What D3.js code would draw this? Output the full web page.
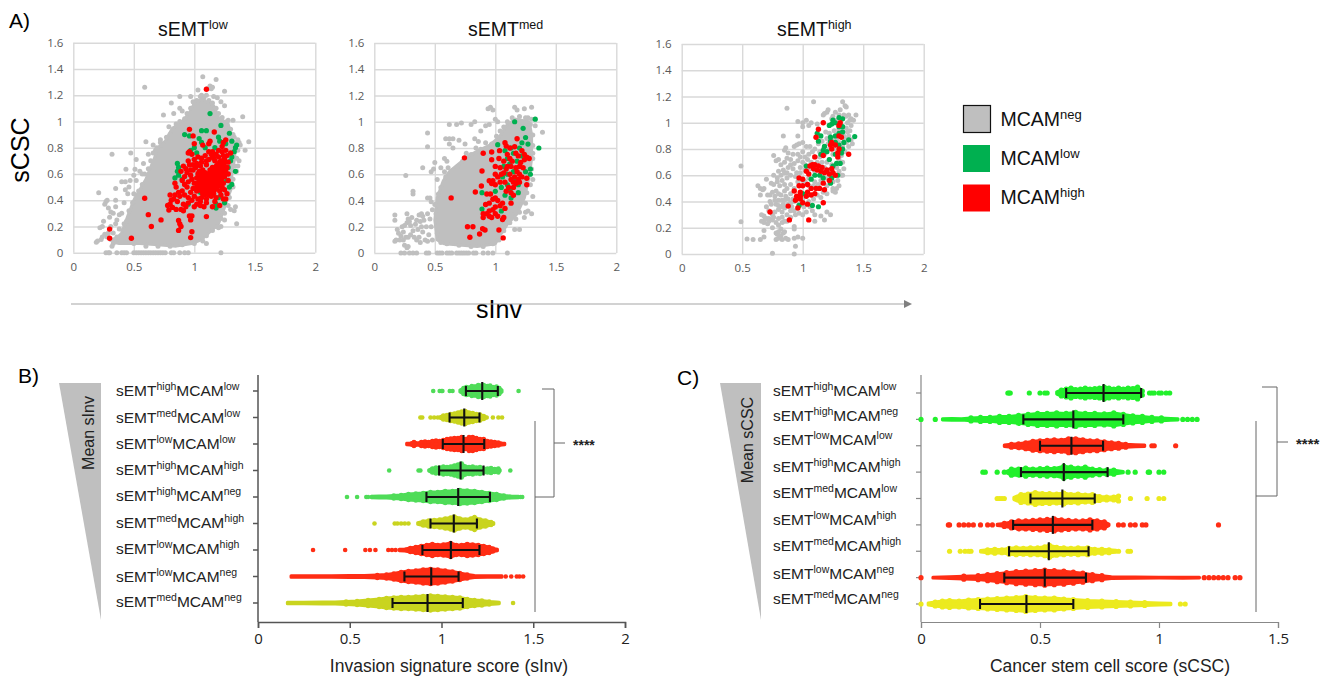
<!DOCTYPE html>
<html lang="en">
<head>
<meta charset="UTF-8" />
<title>sEMT MCAM scores</title>
<script src="https://cdn.jsdelivr.net/npm/d3@7"></script>
<style>
  body { margin: 0; background: #fff; }
  svg { display: block; font-family: "Liberation Sans", Arial, sans-serif; }
  .tick text { font-family: "Open Sans", sans-serif; }
</style>
</head>
<body>
<svg id="fig" width="1340" height="680"></svg>
<script>
// panel A. the dense middle of the clouds is kept as an outline
const lowNegCloud = [[.33,.08],[.40,.15],[.45,.28],[.50,.40],[.55,.48],[.60,.56],[.63,.63],[.67,.72],[.70,.80],[.76,.85],[.82,.95],[.88,.98],[.93,1.03],[.97,1.08],[1.0,1.14],[1.06,1.17],[1.10,1.15],[1.16,1.12],[1.20,1.03],[1.28,.98],[1.31,.88],[1.34,.80],[1.33,.70],[1.31,.60],[1.31,.50],[1.27,.40],[1.24,.32],[1.20,.22],[1.13,.16],[1.06,.10],[.98,.07],[.85,.05],[.70,.06],[.55,.07],[.45,.07],[.38,.07]];
const lowNeg = [[.59,1.26],[1.07,1.34],[1.18,1.32],[1.11,1.25],[1.13,1.27],[1.14,1.25],[1.25,1.23],[.81,1.14],[.88,1.19],[.97,1.19],[.745,1.05],[.83,1.06],[.88,1.1],[.9,1.08],[.79,.96],[.60,.845],[.32,.75],[.475,.76],[.62,.75],[.52,.71],[.58,.68],[.435,.635],[.51,.635],[.21,.457],[1.40,1.035],[1.45,.845],[1.42,.78],[1.38,.82],[1.37,.70],[1.35,.62],[1.33,.32],[1.35,.22],[1.36,.66],[1.28,1.01],[1.32,1.01],[1.25,1.12],[1.22,1.15],[1.15,1.26],[1.19,1.18],[1.03,1.24],[1.06,1.2],[1.1,1.2],[1.16,1.19],[1.0,1.14],[1.36,.86],[1.37,.84],[1.33,.88],[1.34,.35],[1.3,.33],[1.25,.25],[1.2,.19],[1.22,.2],[1.1,.07],
  [.27,0],[.29,0],[.3,0],[.36,0],[.4,0],[.42,0],[.44,0],[.5,0],[.52,0],[.54,0],[.56,0],[.58,0],[.6,0],[.62,0],[.64,0],[.66,0],[.68,0],[.7,0],[.72,0],[.74,0],[.76,0],[.81,0],[.83,0],[.88,0],[.92,0],[.95,0],[1.22,0],
  [.19,.08],[.2,.09],[.22,.19],[.24,.2],[.24,.12],[.25,.24],[.26,.37],[.27,.39],[.28,.4],[.29,.34],[.31,.31],[.30,.27],[.31,.2],[.29,.15],[.28,.12],[.31,.1],[.33,.07],[.35,.22],[.35,.35],[.36,.25],[.38,.18],[.35,.4],[.35,.49],[.4,.54],[.43,.54],[.47,.55],[.5,.59],[.52,.55],[.45,.45],[.42,.38],[.4,.3],[.38,.29],[.42,.22],[.33,.15],[.36,.12],[.45,.1],[.32,.05],[.37,.1],[.26,.14],[.23,.1],[.33,.3],[.43,.48],[.46,.5],[.55,.62],[.57,.6],[.66,.82],[.68,.78],[.72,.86],
  [.34,.1],[.38,.12],[.41,.17],[.44,.24],[.46,.32],[.49,.38],[.5,.45],[.54,.47],[.57,.52],[.59,.6],[.62,.64],[.64,.7],[.66,.76],[.69,.8],[.72,.84],[.74,.82],[.77,.88],[.8,.9],[.83,.93],[.85,.98],[.88,1.0],[.92,1.02],[.94,1.06],[.97,1.1],[.99,1.15],[1.02,1.16],[1.05,1.19],[1.08,1.18],[1.12,1.16],[1.15,1.14],[1.18,1.1],[1.2,1.06],[1.23,1.03],[1.27,1.0],[1.3,.94],[1.32,.9],[1.33,.84],[1.36,.78],[1.35,.72],[1.33,.66],[1.32,.56],[1.32,.5],[1.29,.42],[1.28,.36],[1.25,.3],[1.22,.26],[1.18,.2],[1.15,.17],[1.1,.13],[1.07,.09],[1.0,.07],[.9,.06],[.8,.05],[.7,.05],[.6,.05],[.5,.07]];
const lowLow = [[1.13,1.06],[1.22,.97],[.92,.9],[.96,.89],[1.06,.93],[1.1,.93],[1.29,.91],[1.2,.88],[1.21,.85],[1.26,.83],[1.31,.85],[1.35,.82],[1.34,.8],[1.33,.77],[1.31,.73],[1.3,.7],[1.04,.87],[1.06,.84],[1.17,.8],[1.09,.8],[1.0,.8],[.97,.78],[1.02,.76],[.86,.68],[.87,.65],[.86,.62],[.84,.57],[.87,.59],[.9,.56],[1.34,.62],[1.31,.52],[1.29,.5],[1.25,.38],[1.18,.37],[1.18,.34],[1.2,.42],[.95,.37],[1.23,.55],[1.28,.65],[1.27,.55],[1.05,.46],[1.15,.48],[1.1,.55],[1.14,.6]];
const lowHighCore = [[1.0,.5],[1.04,.62],[1.12,.62],[1.17,.68],[1.24,.73],[1.27,.7],[1.26,.58],[1.22,.5],[1.16,.44],[1.08,.42]];
const lowHigh = [[1.10,1.245],[.96,.94],[1.165,.92],[.99,.89],[1.13,.85],[1.12,.83],[1.26,.86],[1.24,.84],[1.23,.81],[1.0,.83],[.96,.77],[.95,.76],[.98,.75],[1.07,.82],[1.15,.77],[1.12,.77],[1.18,.75],[1.24,.74],[1.27,.74],[1.3,.76],
  [.59,.415],[.62,.29],[.645,.2],[.725,.25],[.30,.18],[.30,.11],[.48,.11],[.87,.245],[.88,.22],[.89,.2],[.87,.17],[.97,.115],[.98,.16],[.96,.28],[.98,.28],[.97,.25],[1.1,.275],[.85,.33],[.8,.37],[.82,.345],[.78,.36],[.79,.325],[.81,.4],[.84,.44],[.8,.44],[.83,.41],[.86,.39],[.89,.33],[.91,.32],[.93,.35],[.95,.38],[.91,.37],[.88,.43],[.84,.53],[.85,.5],[.9,.47],[.87,.46],[.92,.44],[.95,.42],[1.0,.35],[1.02,.37],[1.05,.36],[1.08,.35],[1.15,.35],[1.21,.36],[1.26,.41],[1.24,.41],[1.27,.45],[1.25,.48],[.98,.4],[1.03,.41],
  [1.0,.43],[1.06,.42],[1.1,.41],[1.14,.43],[1.18,.42],[.97,.46],[1.02,.47],[1.07,.45],[1.12,.46],[1.16,.45],[1.21,.47],[.94,.5],[.99,.49],[1.04,.51],[1.08,.49],[1.13,.5],[1.18,.51],[1.23,.5],[.9,.55],[.95,.54],[1.0,.53],[1.05,.55],[1.09,.53],[1.14,.54],[1.19,.55],[1.24,.53],[1.28,.55],[.92,.58],[.97,.59],[1.02,.57],[1.06,.59],[1.11,.58],[1.16,.57],[1.2,.59],[1.25,.58],[1.28,.6],[.89,.62],[.94,.61],[.99,.63],[1.04,.62],[1.09,.61],[1.13,.63],[1.17,.62],[1.21,.61],[1.26,.63],[.91,.66],[.96,.67],[1.01,.65],[1.05,.66],[1.1,.67],[1.15,.65],[1.19,.66],[1.23,.67],[1.27,.65],[.95,.7],[1.0,.71],[1.06,.69],[1.12,.71],[1.17,.7],[1.21,.69],[1.25,.71],[1.28,.69],[1.03,.73],[1.09,.74],[1.14,.75],[1.2,.73],[1.22,.64],[1.18,.57],[1.12,.53],[1.07,.63],[1.02,.5],[1.24,.61],[1.22,.7],[.92,.52],[.98,.56],[1.03,.6],[.93,.64],[.97,.63],[1.06,.72],[1.15,.73],[1.23,.77],[1.26,.78],[1.12,.44],[1.05,.39],[1.1,.38],[1.17,.39],[1.22,.44],[1.2,.78],[1.16,.72],[1.1,.7],[1.02,.68],[.99,.67]];

const medNegCloud = [[.52,.10],[.50,.25],[.52,.42],[.57,.55],[.62,.62],[.70,.68],[.78,.74],[.86,.78],[.95,.82],[1.03,.88],[1.10,.98],[1.17,1.02],[1.28,1.0],[1.30,.9],[1.30,.72],[1.28,.58],[1.24,.42],[1.18,.30],[1.10,.22],[1.05,.15],[1.0,.07],[.85,.05],[.7,.06],[.58,.07]];
const medNeg = [[.96,1.11],[.94,1.1],[.98,1.09],[1.16,1.11],[1.18,1.09],[1.24,1.1],[1.3,1.11],[.62,.98],[.68,.98],[.72,.99],[.8,.98],[.83,1.0],[.92,.97],[.95,.98],[1.0,1.02],[1.02,1.0],[.88,.93],[.44,.915],[.44,.81],[.26,.59],[.32,.47],[.32,.45],[.4,.65],[.47,.62],[.49,.64],[.5,.69],[.59,.87],[.62,.87],[.65,.87],[.7,.86],[.62,.83],[.65,.8],[.75,.83],[.83,.87],[.86,.85],[.58,.72],[.6,.7],[.55,.65],[.58,.62],[.52,.56],[.44,.42],[.46,.42],[.47,.39],[.4,.28],[.39,.3],[.37,.29],[1.39,.92],[1.33,.97],[1.3,1.02],[1.27,1.03],[1.31,.72],[1.31,.56],[1.31,.43],[1.3,.3],[1.27,.32],[1.24,.27],[1.25,.31],[1.2,.18],[1.16,.18],[1.13,.3],
  [.22,0],[.25,0],[.29,0],[.32,0],[.35,0],[.43,0],[.45,0],[.52,0],[.54,0],[.56,0],[.6,0],[.62,0],[.64,0],[.68,0],[.7,0],[.72,0],[.74,0],[.76,0],[.78,0],[.82,0],[.84,0],[.9,0],[.94,0],[.98,0],[1.1,0],
  [.17,.29],[.17,.25],[.19,.18],[.18,.1],[.17,.09],[.21,.1],[.22,.13],[.25,.06],[.27,.04],[.28,.05],[.24,.16],[.25,.21],[.27,.23],[.28,.26],[.27,.3],[.29,.24],[.3,.21],[.32,.17],[.33,.12],[.35,.1],[.37,.12],[.39,.2],[.38,.24],[.4,.16],[.42,.1],[.45,.14],[.47,.2],[.46,.26],[.44,.3],[.48,.33],[.3,.14],[.34,.22],[.36,.18],[.23,.2],[.26,.12],[.41,.25],[.31,.27],[.35,.25],[.43,.2],[.2,.15],[.24,.1],[.28,.12],[.38,.08],[.44,.09],[.48,.1],
  [.52,.15],[.51,.3],[.5,.37],[.53,.45],[.55,.5],[.59,.58],[.61,.65],[.65,.63],[.69,.66],[.73,.7],[.76,.76],[.8,.75],[.84,.8],[.88,.79],[.92,.84],[.97,.83],[1.01,.89],[1.04,.93],[1.07,.96],[1.1,1.0],[1.14,1.03],[1.2,1.04],[1.25,1.03],[1.29,.98],[1.31,.9],[1.31,.82],[1.31,.76],[1.3,.64],[1.29,.52],[1.26,.46],[1.25,.38],[1.2,.31],[1.17,.26],[1.12,.23],[1.07,.17],[1.03,.1],[.98,.07],[.9,.05],[.8,.05],[.7,.06],[.6,.07],[.55,.08]];
const medLow = [[1.33,1.02],[1.16,1.0],[1.23,.95],[1.25,.88],[1.36,.8],[1.02,.825],[1.22,.84],[1.27,.83],[1.2,.8],[1.15,.76],[1.08,.78],[1.1,.72],[1.12,.68],[1.07,.66],[1.18,.7],[1.29,.64],[1.29,.6],[1.25,.62],[1.15,.62],[1.1,.6],[1.06,.58],[1.1,.52],[1.05,.5],[1.12,.48],[1.08,.44],[1.0,.47],[.89,.46],[1.13,.42],[1.19,.46],[.89,.335],[1.05,.32],[1.19,.52],[1.22,.74],[1.13,.8],[1.17,.56]];
const medHigh = [[.745,.725],[.635,.42],[.90,.76],[.89,.625],[.835,.465],[.885,.51],[.77,.20],[.815,.2],[.79,.12],[.87,.145],[.895,.185],[.915,.175],[1.03,.175],[1.065,.115],[1.07,.27],[1.06,.255],[1.18,.87],[1.08,.84],[1.09,.815],[1.12,.80],[1.16,.81],[.97,.77],[1.035,.78],[.97,.71],[1.03,.72],[1.07,.7],[1.12,.72],[1.17,.76],[1.22,.78],[1.19,.74],[1.26,.73],[1.28,.72],[1.24,.71],[1.0,.66],[1.04,.65],[1.09,.64],[1.2,.66],[1.17,.65],[1.23,.65],[1.2,.6],[1.16,.58],[1.12,.6],[1.07,.61],[1.02,.58],[1.0,.6],[.95,.55],[.97,.53],[.98,.55],[1.0,.52],[1.04,.54],[1.08,.54],[1.17,.53],[1.2,.54],[1.13,.56],[1.26,.57],[1.26,.52],[1.15,.5],[1.13,.46],[1.09,.47],[.96,.45],[.93,.45],[.98,.41],[1.0,.42],[1.02,.4],[1.06,.38],[1.13,.38],[.95,.38],[.92,.37],[.9,.3],[.93,.3],[.95,.32],[.98,.33],[1.0,.35],[1.0,.3],[1.02,.28],[1.04,.36],[.9,.27],[.95,.28],[.97,.27],[1.08,.34],[1.15,.44],[1.18,.62],[1.22,.58],[1.1,.66],[1.13,.66],[1.19,.56],[1.15,.54],[1.11,.5],[1.05,.6],[1.14,.7],[1.21,.69],[1.24,.75],[1.1,.75]];

const highNeg = [[.87,1.11],[1.09,1.16],[1.33,1.16],[1.35,1.13],[1.36,1.12],[1.31,1.1],[1.44,1.06],[1.21,1.1],[1.18,1.07],[1.2,1.08],[1.17,1.06],[.96,1.01],[1.0,1.0],[1.03,1.02],[1.07,1.0],[1.12,.99],[1.0,.97],[1.05,.98],[1.4,1.03],[1.39,1.02],[1.37,1.0],[1.42,1.02],[1.4,.98],[1.39,.94],[1.36,.96],[1.38,.9],[1.35,.88],[1.41,.84],[1.38,.82],[1.4,.87],[1.33,.82],[1.35,.78],[1.32,.75],[1.3,.72],[1.33,.7],
  [.84,.9],[.96,.9],[.93,.82],[.95,.83],[.97,.84],[1.0,.85],[1.03,.82],[1.06,.82],[1.1,.8],[1.13,.84],[1.16,.86],[1.2,.88],[1.18,.82],[1.22,.8],[1.25,.76],[1.22,.72],[1.18,.76],[1.14,.78],[1.1,.74],[1.05,.76],[1.0,.78],[.96,.76],[.86,.81],[.85,.79],[.88,.77],[.87,.73],[.76,.75],[.78,.71],[.8,.72],[.82,.68],[.85,.7],[.9,.72],[.93,.69],[.96,.71],[1.0,.7],[1.04,.72],[1.07,.7],[1.12,.7],[1.16,.7],
  [.49,.67],[.7,.57],[.76,.6],[.63,.52],[.65,.5],[.67,.49],[.68,.5],[.65,.45],[.71,.45],[.75,.47],[.78,.48],[.8,.46],[.76,.53],[.79,.55],[.82,.6],[.8,.63],[.85,.62],[.83,.56],[.87,.58],[.9,.6],[.88,.66],[.92,.65],[.95,.62],[.98,.66],[1.02,.64],[.9,.53],[.87,.5],[.85,.48],[.82,.45],[.86,.44],[.9,.46],[.93,.5],[.96,.55],[1.0,.56],[1.05,.58],[1.1,.55],[1.15,.56],[1.2,.52],[1.25,.55],[1.28,.5],[1.3,.52],[1.32,.6],[1.27,.47],[1.25,.48],[1.17,.47],[1.12,.45],[.83,.41],[.8,.41],[.77,.41],[.74,.38],[.7,.36],[.68,.29],[.7,.27],[.66,.25],[.68,.24],[.71,.23],[.72,.25],[.75,.26],[.78,.24],[.8,.22],[.83,.24],[.85,.25],[.87,.3],[.83,.32],[.8,.34],[.85,.35],[.88,.38],[.91,.36],[.93,.33],[.97,.31],[1.0,.3],[1.03,.32],[1.08,.33],[1.1,.3],[1.15,.29],[1.2,.32],[1.23,.3],[.66,.3],[.49,.245],[.68,.18],[.78,.16],[.79,.15],[.82,.14],[.8,.12],[.83,.11],[.86,.12],[.88,.11],[.93,.12],[.96,.13],[1.0,.12],[.94,.06],[.75,.005],[.93,0],[.54,.115],[.59,.11],[.65,.11],[.68,.13],[.78,.11],[.93,.21],[.93,.19],[1.1,.25],[1.18,.26],
  [1.25,1.05],[1.27,1.08],[1.24,1.03],[1.3,1.06],[1.38,1.06],[1.36,1.05],[1.34,1.06],[1.28,1.02],[1.3,.95],[1.26,.94],[1.22,.92],[1.19,.93],[1.24,.88],[1.28,.87],[1.34,.9],[1.36,.85],[1.3,.85],[1.26,.8],[1.21,.84],[1.17,.8],[1.14,.74],[1.2,.7],[1.24,.68],[1.28,.66],[1.34,.65],[1.3,.63],[1.26,.6],[1.22,.64],[1.18,.66],[1.14,.67],[1.1,.63],[1.06,.65],[1.02,.68],[.98,.62],[.94,.59],[.97,.57],[1.02,.55],[1.05,.52],[1.09,.52],[1.13,.53],[1.17,.57],[1.21,.58],[1.25,.5],[1.29,.56],[1.33,.6],[1.2,.46],[1.15,.43],[1.09,.42],[1.05,.4],[1.0,.42],[.95,.43],[.92,.42],[.88,.42],[.85,.41],[.9,.39],[.93,.4],[.97,.38],[1.01,.36],[1.06,.36],[.73,.4],[.78,.38],[.8,.37],[.82,.36],[.84,.38],[.77,.32],[.75,.3],[.72,.33],[.69,.27],[.72,.27],[.76,.28],[.8,.27],[.83,.28],[.87,.25],[.9,.28],[.94,.3],[.82,.19],[.8,.17],[.84,.16],[.85,.17],[.75,.2],[.9,.33],[1.3,.93],[1.37,.93],[1.02,.74],[1.08,.78],[.92,.76],[.98,.74],[.9,.68],[.87,.62],[.84,.64],[.79,.58],[.74,.54],[.81,.52],[.85,.53],[.73,.45],[.77,.44]];
const highLow = [[1.25,1.02],[1.3,1.04],[1.33,1.03],[1.24,.99],[1.27,1.0],[1.22,.98],[1.3,.97],[1.33,.97],[1.43,.895],[1.38,.87],[1.33,.93],[1.3,.92],[1.27,.9],[1.23,.89],[1.12,.92],[1.15,.9],[1.34,.85],[1.3,.83],[1.27,.85],[1.23,.86],[1.13,.86],[1.18,.82],[1.17,.79],[1.33,.8],[1.32,.77],[1.27,.76],[1.2,.78],[1.15,.76],[1.22,.72],[1.28,.69],[1.31,.69],[1.25,.67],[1.03,.67],[1.1,.6],[1.14,.6],[1.17,.58],[1.29,.6],[1.24,.58],[1.23,.54],[1.07,.57],[1.0,.46],[.97,.37],[1.08,.37],[1.13,.36]];
const highHigh = [[1.17,1.0],[1.31,1.0],[1.3,.98],[1.13,.95],[1.11,.89],[1.3,.9],[1.32,.89],[1.24,.85],[1.23,.83],[1.27,.83],[1.24,.8],[1.3,.8],[1.29,.77],[1.38,.76],[1.17,.75],[1.1,.74],[1.29,.74],[1.06,.67],[1.08,.68],[1.1,.68],[1.13,.67],[1.16,.66],[1.2,.64],[1.24,.65],[1.03,.63],[1.05,.61],[1.09,.65],[1.12,.64],[1.15,.63],[1.18,.62],[1.22,.61],[1.25,.62],[1.27,.6],[.97,.58],[1.0,.57],[1.22,.56],[.97,.52],[1.0,.52],[1.04,.53],[1.17,.54],[.93,.48],[.98,.47],[1.04,.47],[1.07,.5],[1.11,.5],[1.14,.5],[1.18,.49],[.95,.44],[.98,.44],[1.03,.44],[1.07,.45],[1.1,.46],[.94,.41],[.98,.42],[1.0,.39],[1.04,.38],[1.17,.39],[.88,.365],[.96,.35],[.73,.32],[.89,.26],[1.05,.26]];

// panels B and C
const emtB = ["high","med","low","high","high","med","low","low","med"];
const mcamB = ["low","low","low","high","neg","high","high","neg","neg"];
const rowColorB = ["#4fdc58","#c9d41f","#ff2d14","#4fdc58","#4fdc58","#c9d41f","#ff2d14","#ff2d14","#c9d41f"];
const sdLowB = [1.133,1.044,1.007,.987,.918,.94,.896,.798,.733];
const meanB = [1.222,1.124,1.12,1.104,1.091,1.067,1.051,.944,.924];
const sdHighB = [1.307,1.207,1.233,1.229,1.264,1.193,1.207,1.093,1.116];
// [score, how far the swarm spreads from the row]
const swarmB = [
  [[1.10,1],[1.12,3],[1.135,4],[1.15,3.5],[1.165,5],[1.18,4.5],[1.2,6],[1.215,5.5],[1.23,6],[1.25,5],[1.265,5.5],[1.28,4],[1.3,4.5],[1.315,3],[1.33,1]],
  [[.99,.5],[1.01,2],[1.03,2.5],[1.05,3.5],[1.07,4],[1.09,5],[1.11,6],[1.13,6.5],[1.15,5],[1.17,4.5],[1.19,3.5],[1.21,3],[1.23,1.5],[1.25,.5]],
  [[.81,.7],[.83,1],[.85,2],[.87,1],[.89,2],[.91,2.5],[.93,2],[.95,3],[.97,3.5],[.99,3],[1.01,4],[1.03,5],[1.05,5.5],[1.07,6],[1.09,6],[1.11,7],[1.13,5],[1.15,7],[1.17,7],[1.19,6],[1.21,5],[1.23,5],[1.25,3],[1.27,2.5],[1.29,2],[1.31,1.5],[1.33,1],[1.345,.7]],
  [[.93,.5],[.95,2],[.97,3],[.99,3],[1.01,4],[1.03,3.5],[1.05,4],[1.07,5],[1.09,6],[1.11,7],[1.13,4],[1.15,3.5],[1.17,4],[1.19,3],[1.21,3.5],[1.23,2],[1.25,2],[1.27,2.5],[1.29,1.5],[1.31,2],[1.32,.5]],
  [[.62,.7],[.66,1],[.7,1],[.74,1.5],[.78,2],[.82,3],[.86,3.5],[.9,4],[.94,5],[.98,5],[1.02,6],[1.06,6],[1.1,7],[1.14,6.5],[1.18,6],[1.22,5],[1.26,4],[1.3,3],[1.34,1.5],[1.38,1],[1.42,.7]],
  [[.87,.7],[.9,2],[.93,3],[.96,3.5],[.99,4],[1.02,5],[1.05,6],[1.07,7],[1.1,5],[1.13,4],[1.16,5],[1.18,6.5],[1.21,4],[1.24,3],[1.27,1.5],[1.285,.7]],
  [[.77,.7],[.8,1],[.83,2],[.86,3],[.89,4],[.92,5],[.95,6],[.98,5],[1.01,5.5],[1.05,7],[1.08,5],[1.11,5],[1.14,6],[1.17,5.5],[1.2,5],[1.23,4],[1.26,3],[1.28,1.5],[1.305,.7]],
  [[.18,.8],[.3,.8],[.4,.8],[.5,1],[.58,1],[.65,1.5],[.7,2],[.74,3],[.78,4.5],[.82,5.5],[.86,6],[.9,7],[.94,7.5],[.98,7],[1.02,6],[1.06,5],[1.1,3.5],[1.14,2],[1.18,1],[1.25,.8],[1.33,.7]],
  [[.16,.8],[.25,.8],[.35,1],[.42,1],[.48,1.5],[.54,2],[.6,3],[.66,4],[.7,5],[.74,5.5],[.78,6],[.82,6],[.86,6.5],[.9,7],[.94,7.5],[.98,7],[1.02,6.5],[1.06,6],[1.1,5.5],[1.14,4],[1.18,3],[1.22,2.5],[1.26,1.5],[1.3,1],[1.315,.7]]
];
const strayB = [[.955,.99,1.0,1.005,1.045,1.06,1.42],[.885,.895,.94,.96,.98,1.28,1.31,1.33],[],[.715,.875,.885,1.375],[.485,.54,.59,.60,.62,1.43,1.44],[.635,.745,.76,.78,.80,.82],[.30,.475,.585,.61,.64,.71,.73,.75],[1.35,1.38,1.41,1.425,1.445],[1.39]];

const emtC = ["high","high","low","high","med","low","med","low","med"];
const mcamC = ["low","neg","low","high","low","high","high","neg","neg"];
const rowColorC = ["#22f02c","#22f02c","#ff2d14","#22f02c","#ecea1e","#ff2d14","#ecea1e","#ff2d14","#ecea1e"];
const sdLowC = [.61,.43,.50,.42,.46,.387,.37,.35,.248];
const meanC = [.767,.64,.632,.60,.594,.554,.537,.52,.443];
const sdHighC = [.925,.85,.765,.784,.73,.72,.704,.693,.64];
const swarmC = [
  [[.57,1],[.59,3],[.61,4],[.63,5],[.65,3.5],[.67,4],[.69,5],[.71,4],[.73,4.5],[.75,5],[.77,6],[.79,5],[.81,4],[.83,5],[.85,4],[.87,5],[.89,4.5],[.91,6],[.93,2]],
  [[.09,.7],[.13,1],[.17,.7],[.21,1.5],[.25,2],[.29,2],[.33,3],[.37,3],[.41,4],[.45,5],[.49,6],[.53,6],[.57,6.5],[.61,6],[.65,7],[.69,6],[.73,6],[.77,5.5],[.81,6.5],[.85,5],[.89,3.5],[.93,3],[.97,2],[1.01,1.5],[1.05,1],[1.08,.7]],
  [[.35,.7],[.38,1.5],[.41,2],[.44,3],[.47,4.5],[.5,5],[.53,5.5],[.56,6],[.59,5.5],[.62,7],[.65,7],[.68,6],[.71,5],[.74,5],[.77,4],[.8,3],[.83,2.5],[.86,1.5],[.9,1],[.94,.7]],
  [[.36,.7],[.38,3],[.41,3],[.44,4],[.47,3],[.5,3.5],[.53,4],[.56,3.5],[.6,6],[.63,5],[.66,4],[.69,5],[.72,3],[.75,2.5],[.78,2],[.81,2],[.85,.7]],
  [[.39,1],[.42,4],[.45,4.5],[.48,6],[.51,5],[.54,5],[.57,4.5],[.6,5.5],[.63,4],[.66,4.5],[.69,3.5],[.72,4],[.75,2],[.78,1.5],[.81,1.5],[.83,2.5]],
  [[.32,.7],[.35,1.5],[.38,3],[.41,4],[.44,4],[.47,4.5],[.5,5],[.53,5.5],[.56,6],[.59,5],[.62,4.5],[.65,4],[.68,4],[.71,5],[.74,4],[.77,3],[.79,.7]],
  [[.25,.7],[.28,1.5],[.31,2],[.34,1.5],[.37,3],[.4,3.5],[.43,3],[.46,3.5],[.49,3.5],[.52,4.5],[.54,6],[.57,4],[.6,3.5],[.63,3],[.66,3.5],[.7,3.5],[.73,2],[.76,2],[.79,1.5],[.82,1]],
  [[.05,.5],[.12,1],[.18,1.5],[.24,2],[.28,3],[.32,4],[.36,5],[.4,6],[.44,6.5],[.48,7],[.52,7.5],[.56,7],[.6,6.5],[.64,5.5],[.68,4.5],[.72,3],[.76,2],[.8,1],[.9,.7],[1.0,.5],[1.1,.5],[1.17,.4]],
  [[.03,1],[.06,2],[.09,3],[.12,3.5],[.16,3],[.2,4],[.24,4.5],[.28,5],[.32,5.5],[.36,6],[.4,6.5],[.44,7.5],[.48,6.5],[.52,6],[.56,6],[.6,5],[.64,4.5],[.7,3.5],[.76,3],[.82,2.5],[.88,2],[.94,1.5],[1.0,1],[1.05,.7]]
];
const strayC = [[.365,.37,.375,.455,.5,.52,.53,.58,.96,.97,.98,1.0,1.01,1.03,1.045],[0,.06,1.1,1.12,1.14,1.16],[.97,.98,1.07],[.26,.27,.32,.35,.87,.9,.955,.96,1.0,1.02],[.32,.33,.34,.35,.88,.95,1.0,1.02],[.115,.12,.16,.18,.2,.22,.25,.28,.3,.83,.85,.88,.9,.93,.945,1.25],[.12,.165,.185,.2,.21,.83,.87,.88],[0,1.19,1.21,1.23,1.25,1.27,1.29,1.32,1.34],[0,1.09,1.11]];

const scoreTicks = [0,.5,1,1.5,2];
const cscTicks = [0,.2,.4,.6,.8,1,1.2,1.4,1.6];
const legendLabels = ["neg","low","high"];
const legendColors = ["#bfbfbf","#00b050","#ff0000"];

const svg = d3.select("#fig");

// text with superscript parts: ["sEMT","^high","MCAM","^low"]
function rich(x, y, parts, size, supSize, color) {
  const t = svg.append("text").attr("x", x).attr("y", y).attr("font-size", size).attr("fill", color || "#111");
  let up = false;
  parts.forEach(p => {
    const sup = p[0] === "^";
    const shift = sup === up ? 0 : (sup ? -size * .36 : size * .36);
    t.append("tspan").attr("dy", shift).attr("font-size", sup ? supSize : size).text(sup ? p.slice(1) : p);
    up = sup;
  });
  return t;
}

function scatter(left, top, panel) {
  const x = d3.scaleLinear().domain([0, 2]).range([left, left + 242]);
  const y = d3.scaleLinear().domain([0, 1.6]).range([top + 210, top]);
  const g = svg.append("g");
  g.append("g").attr("transform", `translate(0,${top + 210})`)
    .call(d3.axisBottom(x).tickValues(scoreTicks).tickFormat(d3.format("~g")).tickSize(-210).tickPadding(10));
  g.append("g").attr("transform", `translate(${left},0)`)
    .call(d3.axisLeft(y).tickValues(cscTicks).tickFormat(d3.format("~g")).tickSize(-242).tickPadding(10));
  g.selectAll(".domain").remove();
  g.selectAll(".tick line").attr("stroke", "#d9d9d9").attr("stroke-width", 1.4);
  g.selectAll(".tick text").attr("fill", "#595959").attr("font-size", 11.5);

  const outline = d3.line().x(d => x(d[0])).y(d => y(d[1])).curve(d3.curveLinearClosed);
  if (panel.cloud) {
    svg.append("path").attr("d", outline(panel.cloud))
      .attr("fill", "#bfbfbf").attr("stroke", "#bfbfbf").attr("stroke-width", 3).attr("stroke-linejoin", "round");
  }
  const dots = (data, color, r) => svg.append("g").attr("fill", color).selectAll("circle").data(data).join("circle")
    .attr("cx", d => x(d[0])).attr("cy", d => y(d[1])).attr("r", r);
  dots(panel.neg, "#bfbfbf", 2.5);
  dots(panel.low, "#00b050", 2.6);
  if (panel.core) {
    svg.append("path").attr("d", outline(panel.core)).attr("fill", "#ff0000");
  }
  dots(panel.high, "#ff0000", 2.7);
}

scatter(73.3, 42.7, { cloud: lowNegCloud, neg: lowNeg, low: lowLow, high: lowHigh, core: lowHighCore });
scatter(374.3, 43, { cloud: medNegCloud, neg: medNeg, low: medLow, high: medHigh });
scatter(681.7, 44, { neg: highNeg, low: highLow, high: highHigh });

rich(158, 36, ["sEMT", "^low"], 19.5, 12.5);
rich(468, 36, ["sEMT", "^med"], 19.5, 12.5);
rich(777, 36, ["sEMT", "^high"], 19.5, 12.5);

svg.append("text").attr("x", 9).attr("y", 28).attr("font-size", 21).text("A)");
svg.append("text").attr("x", 18).attr("y", 383).attr("font-size", 21).text("B)");
svg.append("text").attr("x", 677).attr("y", 385).attr("font-size", 21).text("C)");
svg.append("text").attr("transform", "translate(29,150) rotate(-90)").attr("text-anchor", "middle").attr("font-size", 25).text("sCSC");
svg.append("text").attr("x", 499).attr("y", 318).attr("text-anchor", "middle").attr("font-size", 25).text("sInv");

// long arrow under panel A
svg.append("line").attr("x1", 71).attr("x2", 904).attr("y1", 304).attr("y2", 304).attr("stroke", "#a6a6a6").attr("stroke-width", 1.2);
svg.append("path").attr("d", "M904,300L912,304L904,308Z").attr("fill", "#7f7f7f");

// legend
legendLabels.forEach((lab, i) => {
  svg.append("rect").attr("x", 963 + (i ? 0 : .5)).attr("y", [105.5, 145, 184.5][i]).attr("width", 27).attr("height", 27)
    .attr("fill", legendColors[i]).attr("stroke", i ? "none" : "#111").attr("stroke-width", 1.2);
  rich(1000.5, [126, 165, 204][i], ["MCAM", "^" + lab], 19.5, 13);
});

function swarmPanel(cfg) {
  const x = d3.scaleLinear().domain(cfg.domain).range(cfg.range);
  const rowY = d3.scalePoint().domain(d3.range(9)).range(cfg.rows);
  const spread = d3.scaleLinear().domain([0, 10]).range([0, 10]);

  // grey wedge
  svg.append("path").attr("d", `M${cfg.wedge[0]},383L${cfg.wedge[1]},383L${cfg.wedge[1]},620Z`).attr("fill", "#bfbfbf");
  svg.append("text").attr("transform", `translate(${cfg.wedgeText[0]},${cfg.wedgeText[1]}) rotate(-90)`)
    .attr("text-anchor", "middle").attr("font-size", 16).attr("fill", "#222").text(cfg.wedgeLabel);

  // axes
  const ax = svg.append("g").attr("transform", "translate(0,622)")
    .call(d3.axisBottom(x).tickValues(cfg.ticks).tickFormat(d3.format("~g")).tickSize(6).tickPadding(5));
  ax.selectAll(".domain").attr("stroke", cfg.axis).attr("stroke-width", cfg.axisW);
  ax.selectAll(".tick line").attr("stroke", cfg.axis).attr("stroke-width", cfg.axisW);
  ax.selectAll(".tick text").attr("fill", "#222").attr("font-size", 15).attr("font-family", "Liberation Sans");
  svg.append("line").attr("x1", cfg.range[0]).attr("x2", cfg.range[0]).attr("y1", 375).attr("y2", 622)
    .attr("stroke", cfg.axis).attr("stroke-width", cfg.axisW);
  svg.append("text").attr("x", cfg.titleX).attr("y", 672).attr("text-anchor", "middle").attr("font-size", 17.5).attr("fill", "#222").text(cfg.title);

  const area = d3.area().x(d => x(d[0])).curve(d3.curveLinear);
  cfg.emt.forEach((emt, i) => {
    const cy = rowY(i);
    svg.append("line").attr("x1", cfg.range[0] - 5).attr("x2", cfg.range[0]).attr("y1", cy).attr("y2", cy)
      .attr("stroke", cfg.axis).attr("stroke-width", cfg.axisW);
    rich(cfg.labelX, cfg.labelY[i], ["sEMT", "^" + emt, "MCAM", "^" + cfg.mcam[i]], 15.5, 10.5, "#222");

    svg.append("path").attr("fill", cfg.colors[i]).attr("stroke", cfg.colors[i]).attr("stroke-width", 3)
      .attr("stroke-linejoin", "round")
      .attr("d", area.y0(d => cy - spread(d[1])).y1(d => cy + spread(d[1]))(cfg.swarm[i]));
    // the outermost dots of the swarm on both sides, the thin tails stay plain
    const rim = svg.append("g").attr("fill", cfg.colors[i]);
    [-1, 1].forEach(side => rim.append("g").selectAll("circle").data(cfg.swarm[i].filter(d => d[1] >= 1.5)).join("circle")
      .attr("cx", d => x(d[0])).attr("cy", d => cy + side * spread(d[1])).attr("r", cfg.dot));
    svg.append("g").attr("fill", cfg.colors[i]).selectAll("circle").data(cfg.stray[i]).join("circle")
      .attr("cx", d => x(d)).attr("cy", cy).attr("r", cfg.dot);

    // mean and sd bars
    const bars = svg.append("g").attr("stroke", "#111").attr("stroke-width", 2.1);
    bars.append("line").attr("x1", x(cfg.sdLow[i])).attr("x2", x(cfg.sdHigh[i])).attr("y1", cy).attr("y2", cy);
    [cfg.sdLow[i], cfg.sdHigh[i]].forEach(v => bars.append("line").attr("x1", x(v)).attr("x2", x(v)).attr("y1", cy - 5).attr("y2", cy + 5));
    bars.append("line").attr("x1", x(cfg.mean[i])).attr("x2", x(cfg.mean[i])).attr("y1", cy - 9).attr("y2", cy + 9);
  });

  // significance bracket
  const b = cfg.bracket;
  svg.append("path").attr("fill", "none").attr("stroke", "#666").attr("stroke-width", 1)
    .attr("d", `M${b.top},${b.y0}H${b.x}V${b.y1}H${b.left}M${b.left},421V612M${b.x},${b.mid}H${b.x + 11}`);
  svg.append("text").attr("x", b.x + 19).attr("y", b.mid + 7).attr("font-size", b.star).attr("font-weight", "bold").attr("fill", "#222").text("****");
}

swarmPanel({
  domain: [0, 2], range: [258, 625], ticks: scoreTicks, rows: [391, 603], dot: 2.3,
  emt: emtB, mcam: mcamB, colors: rowColorB, swarm: swarmB, stray: strayB,
  sdLow: sdLowB, mean: meanB, sdHigh: sdHighB,
  labelX: 116, labelY: [396, 423, 449, 475, 501, 528, 554, 582, 607],
  wedge: [59, 101], wedgeText: [94, 433], wedgeLabel: "Mean sInv",
  axis: "#555", axisW: 1.5, title: "Invasion signature score (sInv)", titleX: 449,
  bracket: { top: 542, x: 554, y0: 389, y1: 497, left: 535, mid: 443, star: 14 }
});

swarmPanel({
  domain: [0, 1.5], range: [921, 1278], ticks: [0, .5, 1, 1.5], rows: [393, 604], dot: 2.6,
  emt: emtC, mcam: mcamC, colors: rowColorC, swarm: swarmC, stray: strayC,
  sdLow: sdLowC, mean: meanC, sdHigh: sdHighC,
  labelX: 773, labelY: [396, 421, 445, 472, 498, 525, 551, 579, 604],
  wedge: [720, 761], wedgeText: [753, 440], wedgeLabel: "Mean sCSC",
  axis: "#888", axisW: 1.2, title: "Cancer stem cell score (sCSC)", titleX: 1110,
  bracket: { top: 1262, x: 1277, y0: 387, y1: 496, left: 1256, mid: 442, star: 15 }
});
</script>
</body>
</html>
